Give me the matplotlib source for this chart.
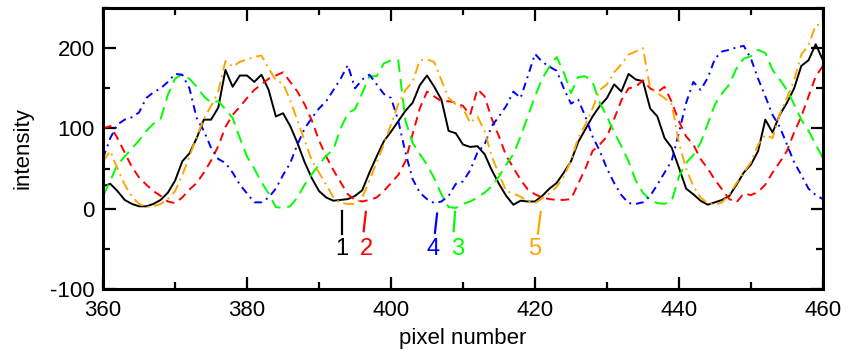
import numpy as np
import matplotlib
matplotlib.use('Agg')
import matplotlib.pyplot as plt
from matplotlib.ticker import MultipleLocator

plt.rcParams['font.family'] = ['Liberation Sans', 'DejaVu Sans']
plt.rcParams['axes.unicode_minus'] = False

# ------------------------------------------------------------------ data
pixel = np.arange(360, 461)

curve1 = [28, 31, 22, 11, 6, 3, 3, 6, 11, 20,
          35, 59, 69, 88, 111, 111, 126, 173, 152, 166,
          166, 158, 167, 148, 115, 119, 103, 82, 58, 38,
          22, 14, 10, 11, 12, 16, 23, 45, 65, 84,
          96, 109, 122, 132, 154, 166, 152, 136, 97, 94,
          80, 77, 78, 68, 48, 31, 16, 5, 10, 9,
          9, 16, 25, 32, 45, 59, 83, 99, 115, 128,
          138, 155, 146, 168, 161, 159, 125, 115, 88, 76,
          51, 25, 18, 10, 5, 8, 11, 16, 30, 45,
          55, 72, 111, 95, 117, 132, 150, 178, 185, 205,
          185]
curve2 = [100, 103, 88, 70, 52, 39, 30, 22, 16, 9,
          7, 14, 24, 32, 45, 60, 78, 102, 117, 127,
          138, 148, 155, 162, 166, 170, 158, 146, 130, 110,
          85, 65, 48, 33, 18, 11, 9, 11, 14, 22,
          32, 42, 59, 93, 125, 146, 140, 134, 134, 132,
          128, 117, 149, 140, 112, 90, 66, 51, 36, 24,
          18, 14, 12, 11, 11, 12, 31, 50, 72, 80,
          90, 112, 135, 150, 152, 160, 150, 145, 152, 133,
          109, 90, 80, 62, 50, 36, 24, 12, 8, 19,
          17, 21, 30, 45, 58, 72, 95, 115, 140, 165,
          178]
curve3 = [16, 35, 55, 65, 75, 85, 97, 106, 112, 142,
          162, 168, 162, 152, 140, 132, 134, 124, 113, 88,
          65, 50, 33, 19, 2, 1, 3, 14, 30, 43,
          55, 66, 74, 100, 119, 124, 144, 165, 165, 181,
          185, 185, 110, 82, 68, 55, 38, 18, 2, 1,
          6, 9, 14, 20, 28, 40, 55, 68, 90, 115,
          140, 162, 177, 189, 170, 144, 164, 165, 158, 132,
          115, 95, 78, 59, 35, 20, 11, 7, 6, 10,
          40, 57, 67, 82, 106, 130, 144, 155, 175, 187,
          190, 198, 194, 173, 161, 148, 130, 111, 97, 80,
          63]
curve4 = [63, 88, 105, 111, 114, 120, 138, 145, 150, 158,
          168, 167, 150, 113, 97, 76, 62, 57, 45, 30,
          19, 8, 8, 14, 25, 42, 57, 80, 100, 113,
          125, 134, 148, 162, 179, 150, 161, 167, 155, 143,
          138, 110, 70, 37, 20, 12, 7, 9, 16, 31,
          34, 48, 70, 80, 103, 115, 128, 146, 138, 165,
          193, 183, 177, 172, 150, 131, 136, 115, 90, 72,
          50, 32, 17, 7, 6, 8, 16, 30, 45, 60,
          95, 132, 158, 148, 163, 187, 196, 198, 201, 203,
          187, 162, 140, 117, 102, 80, 58, 42, 25, 17,
          12]
curve5 = [59, 72, 50, 30, 15, 6, 2, 3, 6, 12,
          22, 42, 65, 90, 112, 128, 146, 184, 177, 183,
          186, 189, 191, 175, 160, 156, 135, 110, 85, 60,
          45, 30, 14, 7, 6, 6, 14, 35, 58, 80,
          105, 130, 148, 158, 185, 186, 183, 160, 138, 130,
          125, 107, 115, 97, 65, 43, 22, 19, 15, 9,
          7, 13, 19, 27, 40, 60, 88, 105, 125, 148,
          155, 170, 180, 192, 196, 200, 150, 144, 138, 130,
          82, 50, 28, 14, 7, 5, 8, 18, 32, 45,
          58, 80, 92, 88, 118, 138, 160, 192, 204, 229,
          229]

series = [curve1, curve2, curve3, curve4, curve5]
colors = ['black', '#FF0000', '#00FF00', '#0000FF', '#FFA500']
dashes = [None, (4.5, 3.0), (6.5, 3.5), (4.0, 2.5, 1.0, 2.5), (5.5, 2.5, 1.0, 2.5)]

# curve labels below the zero line
label_text = ['1', '2', '3', '4', '5']
label_x = [393.2, 396.6, 409.2, 405.8, 420.0]
line_top = [(393.2, -2.5), (396.5, -4), (408.9, -4), (406.4, -6), (420.8, -4)]
line_bot = [(393.2, -31), (396.2, -28), (408.7, -28), (406.1, -30), (420.4, -31)]
label_y = -50

# ------------------------------------------------------------------ plot
fig = plt.figure(figsize=(8.59, 3.52), dpi=100)
ax = fig.add_axes([0.12, 0.179, 0.838, 0.798])

for y, c, d in zip(series, colors, dashes):
    if d is None:
        ax.plot(pixel, y, color=c, lw=1.4)
    else:
        ax.plot(pixel, y, color=c, lw=1.4, dashes=d)

for t, x, p0, p1, c in zip(label_text, label_x, line_top, line_bot, colors):
    ax.plot([p0[0], p1[0]], [p0[1], p1[1]], color=c, lw=1.6)
    ax.text(x, label_y, t, color=c, fontsize=17, ha='center', va='center')

ax.set_xlim(360, 460)
ax.set_ylim(-100, 250)
ax.xaxis.set_major_locator(MultipleLocator(20))
ax.xaxis.set_minor_locator(MultipleLocator(10))
ax.yaxis.set_major_locator(MultipleLocator(100))
ax.yaxis.set_minor_locator(MultipleLocator(50))
ax.tick_params(which='both', direction='in', top=True, right=True,
               width=1.6, labelsize=16)
ax.tick_params(which='major', length=9)
ax.tick_params(which='minor', length=5)
ax.tick_params(axis='x', pad=8)
ax.tick_params(axis='y', pad=6)
for s in ax.spines.values():
    s.set_linewidth(2.2)

ax.set_xlabel('pixel number', fontsize=16, labelpad=5)
ax.set_ylabel('intensity', fontsize=16, labelpad=12)

fig.savefig('out.png', dpi=100)
